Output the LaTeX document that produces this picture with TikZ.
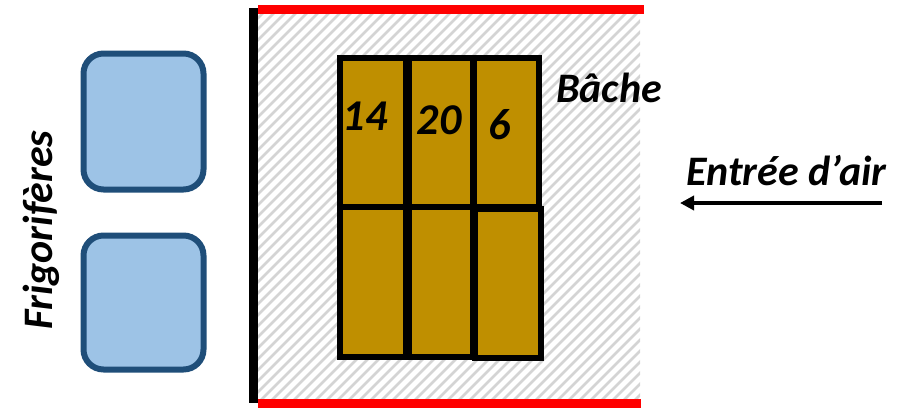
\documentclass[tikz,border=0pt]{standalone}
\usepackage{fontspec}
\setmainfont{Carlito}
\usetikzlibrary{arrows.meta}
\definecolor{gold}{RGB}{191,143,0}
\definecolor{frigofill}{RGB}{157,195,230}
\definecolor{frigodraw}{RGB}{31,78,121}
\definecolor{hatchgray}{RGB}{212,212,212}
\tikzset{
  lbl/.style={font=\fontsize{42}{46}\selectfont\bfseries\itshape, inner sep=0pt},
  numlbl/.style={font=\fontsize{44}{48}\selectfont\bfseries\itshape, inner sep=0pt},
  pallet/.style={draw=black, line width=6pt, fill=gold},
  frigo/.style={draw=frigodraw, line width=6pt, fill=frigofill, rounded corners=20pt},
  hatch/.style={draw=hatchgray, line width=2.8pt},
}
\begin{document}
\begin{tikzpicture}[x=1pt,y=-1pt]
\useasboundingbox (0,0) rectangle (915,408);
% hatched tarp area
\begin{scope}
  \clip (258,10) rectangle (640,403);
  \foreach \i in {-40,...,40} {
    \draw[hatch] ({258+\i*11},403) -- ({258+\i*11+393},10);
  }
\end{scope}
% walls
\draw[line width=9pt, line cap=butt] (253.5,8) -- (253.5,403);
\draw[red, line width=9pt] (258,9.5) -- (644,9.5);
\draw[red, line width=9pt] (258,403) -- (641,403);
% pallets
\draw[pallet] (340,58) rectangle (406,207);
\draw[pallet] (409,58) rectangle (473,207);
\draw[pallet] (474,58) rectangle (539,207);
\draw[pallet] (340,207) rectangle (406,357);
\draw[pallet] (409,207) rectangle (473,357);
\draw[pallet] (475,209) rectangle (541,358);
\node[numlbl] (n14) at (365,116) {14};
\node[numlbl] (n20) at (439,120) {20};
\node[numlbl] (n6) at (500,125) {6};
% fridges
\draw[frigo] (83.5,53.5) rectangle (203.5,189.5);
\draw[frigo] (83.5,235.5) rectangle (203.5,369.5);
\node[lbl, rotate=90] (frig) at (41,230) {Frigorifères};
% labels
\node[lbl, anchor=base west] (bache) at (556,102) {Bâche};
\node[lbl, anchor=base west] (air) at (686,185) {Entrée d’air};
\coordinate (arS) at (882,203);
\coordinate (arE) at (680,203);
\draw[line width=4.5pt, -{Triangle[length=14pt,width=14pt]}] (arS) -- (arE);
\end{tikzpicture}
\end{document}
